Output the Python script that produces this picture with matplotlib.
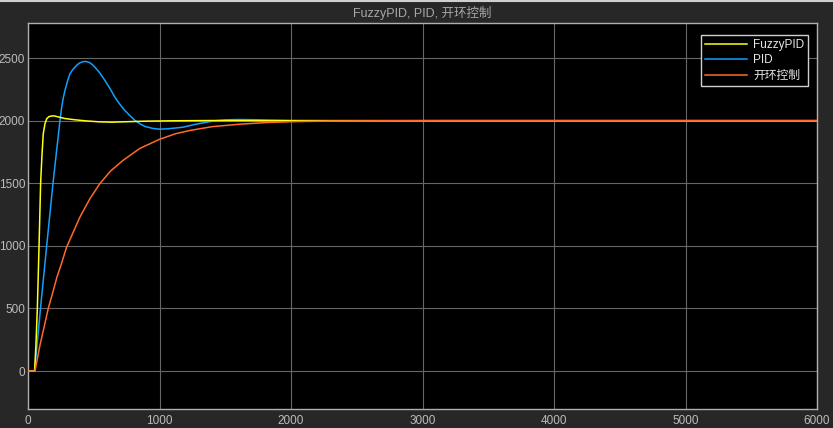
import matplotlib
matplotlib.use("Agg")
import matplotlib.pyplot as plt
from matplotlib.lines import Line2D

# Values
fuzzy_t = [0, 50, 60, 71, 84, 96, 106, 116, 129, 142, 160, 193, 230, 281, 357, 433,
           535, 636, 737, 890, 1100, 1400, 2000, 3000, 6000]
fuzzy_v = [0, 0, 200, 500, 1000, 1500, 1720, 1895, 1975, 2015, 2033, 2039, 2030, 2017,
           2007, 1999, 1991, 1988, 1991, 1996, 1999, 2001, 2000, 2000, 2000]

pid_t = [0, 50, 101, 142, 190, 243, 256, 268, 281, 300, 319, 338, 357, 376, 395, 414,
         433, 452, 471, 490, 509, 547, 585, 623, 661, 699, 737, 775, 813, 851, 889,
         950, 1003, 1060, 1120, 1181, 1260, 1358, 1430, 1510, 1600, 1700, 1850, 2000,
         2300, 3000, 6000]
pid_v = [0, 0, 566, 1000, 1500, 2000, 2108, 2180, 2241, 2315, 2374, 2405, 2427, 2448,
         2462, 2470, 2473, 2470, 2462, 2447, 2427, 2380, 2321, 2257, 2187, 2130, 2081,
         2040, 2002, 1975, 1954, 1938, 1932, 1935, 1941, 1948, 1968, 1988, 2000, 2007,
         2009, 2008, 2004, 2001, 2000, 2000, 2000]

open_t = [0, 53, 70, 91, 120, 154, 185, 220, 255, 294, 340, 395, 470, 546, 630, 723,
          850, 998, 1120, 1232, 1400, 1612, 1800, 2000, 2300, 2700, 3200, 6000]
open_v = [0, 0, 92, 207, 340, 500, 615, 750, 860, 991, 1100, 1230, 1375, 1497, 1600,
          1683, 1778, 1850, 1895, 1922, 1952, 1972, 1984, 1992, 1997, 1999, 2000, 2000]

labels = ["FuzzyPID", "PID", "开环控制"]
colors = ["#ffff11", "#129fff", "#ff6929"]
x_ticks = [0, 1000, 2000, 3000, 4000, 5000, 6000]
y_ticks = [0, 500, 1000, 1500, 2000, 2500]

plt.rcParams['font.family'] = ['Liberation Sans', 'Noto Sans CJK SC', 'DejaVu Sans']

fig = plt.figure(figsize=(8.33, 4.28), dpi=100, facecolor="#272727")
ax = fig.add_axes([28 / 833, 19 / 428, 789 / 833, 386 / 428])
ax.set_facecolor("black")

ax.plot(pid_t, pid_v, color=colors[1], lw=1.1, zorder=3, label=labels[1])
ax.plot(fuzzy_t, fuzzy_v, color=colors[0], lw=1.1, zorder=4, label=labels[0])
ax.plot(open_t, open_v, color=colors[2], lw=1.1, zorder=5, label=labels[2])

ax.set_xlim(0, 6000)
ax.set_ylim(-303, 2780)
ax.set_xticks(x_ticks)
ax.set_yticks(y_ticks)
ax.grid(True, color="#666666", lw=0.8)
ax.tick_params(length=0, colors="#bcbcbc", labelsize=8.5)
ax.tick_params(axis="y", pad=2)
ax.tick_params(axis="x", pad=4)
for lab in ax.get_xticklabels() + ax.get_yticklabels():
    lab.set_family(['Liberation Sans Narrow', 'Liberation Sans'])
for s in ax.spines.values():
    s.set_color("#b0b0b0")
    s.set_linewidth(1)

ax.set_title("FuzzyPID, PID, 开环控制", color="#a8a8a8", fontsize=9, pad=4)

handles, labs = ax.get_legend_handles_labels()
order = [1, 0, 2]
leg = ax.legend([handles[i] for i in order], [labs[i] for i in order],
                loc="upper right", fontsize=8.5, facecolor="black", edgecolor="#d0d0d0",
                framealpha=1, fancybox=False, handlelength=3.6, handletextpad=0.5,
                borderpad=0.35, labelspacing=0.3, bbox_to_anchor=(0.9965, 0.985))
leg.get_frame().set_linewidth(1)
for t in leg.get_texts():
    t.set_color("#e6e6e6")

fig.add_artist(Line2D([0, 1], [0.998, 0.998], color="#cfcfcf", lw=1.5,
                      transform=fig.transFigure))

fig.savefig("out.png", dpi=100, facecolor=fig.get_facecolor())
